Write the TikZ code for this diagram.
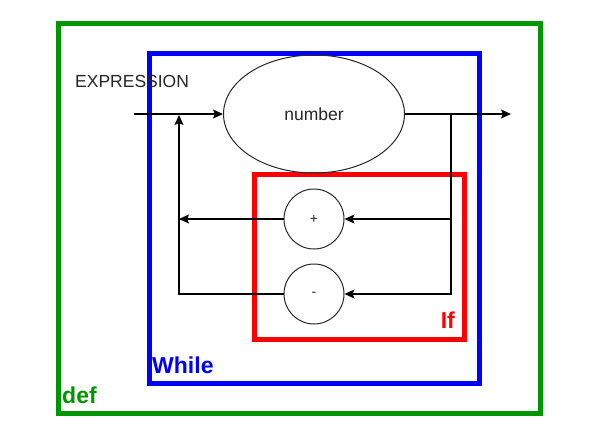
\documentclass[tikz,border=0pt]{standalone}
\usepackage{fontspec}
\setmainfont{Liberation Sans}
\usetikzlibrary{arrows.meta,shapes.geometric}
\definecolor{dgreen}{RGB}{0,150,0}
\definecolor{dblue}{RGB}{0,0,255}
\definecolor{dred}{RGB}{255,0,0}
\definecolor{stroke}{RGB}{40,40,40}
\tikzset{
  arr/.style={-{Stealth[length=10pt,width=9pt,inset=2pt]}, line width=1.2pt, draw=black},
  grpgreen/.style={draw=dgreen, line width=5pt},
  grpblue/.style={draw=dblue, line width=5pt},
  grpred/.style={draw=dred, line width=5pt},
  grplabel/.style={font=\fontsize{23}{26}\selectfont\bfseries, inner sep=0pt, anchor=base west},
  txt/.style={font=\fontsize{17.5}{20}\selectfont, text=black!85, inner sep=0pt},
  oval/.style={ellipse, draw=stroke, line width=1pt, minimum width=181pt, minimum height=118pt, inner sep=0pt, font=\fontsize{17.5}{20}\selectfont, text=black!85},
  op/.style={circle, draw=stroke, line width=1pt, minimum size=60pt, inner sep=0pt, font=\fontsize{14}{16}\selectfont, text=black!85}
}
\begin{document}
\begin{tikzpicture}[x=1pt,y=-1pt]
\useasboundingbox[fill=white] (0,0) rectangle (607,439);
% group frames
\draw[grpgreen] (58.5,23) rectangle (540,413);
\draw[grpblue] (149.5,53) rectangle (479.5,383);
\draw[grpred] (254.5,174.5) rectangle (464.5,339);
% nodes
\node[oval] (num) at (314,114) {number};
\node[op] (plus) at (314,219) {+};
\node[op] (minus) at (314,294) {-};
\coordinate (start) at (134,114);
\coordinate (out) at (511,114);
\coordinate (split) at (451,114);
\coordinate (loop) at (179,115);
% connectors
\draw[arr] (start) -- (num.west);
\draw[arr] (num.east) -- (out);
\draw[arr] (split) |- (plus.east);
\draw[arr] (split) |- (minus.east);
\draw[arr] (plus.west) -- (plus.west -| loop);
\draw[arr] (minus.west) -| (loop);
% labels
\node[txt, anchor=base west] (expr) at (75,87) {EXPRESSION};
\node[grplabel, text=dred, anchor=base east] (iflbl) at (455,328) {If};
\node[grplabel, text=dblue] (whilelbl) at (152,373) {While};
\node[grplabel, text=dgreen] (deflbl) at (62,403) {def};
\end{tikzpicture}
\end{document}
